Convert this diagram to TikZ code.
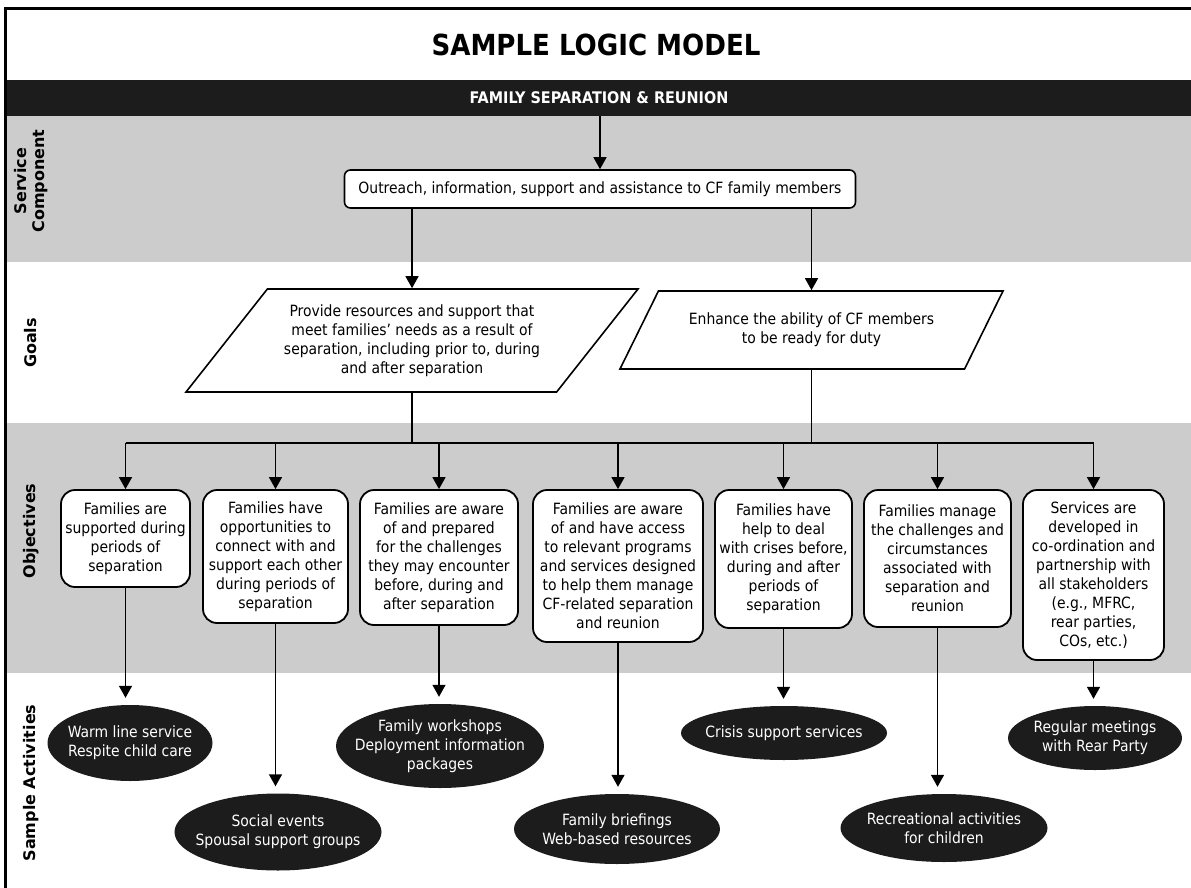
\documentclass[tikz,border=0pt]{standalone}
\usepackage{fontspec}
\usetikzlibrary{arrows.meta,shapes.geometric}
\newfontfamily\bodyfont{DejaVu Sans Condensed}
\newfontfamily\headfont{DejaVu Sans}
\definecolor{lanegray}{HTML}{CCCCCC}
\definecolor{ink}{HTML}{1C1C1C}

\begin{document}
\begin{tikzpicture}[x=1pt,y=-1pt,
  every node/.style={font=\bodyfont\fontsize{15.5}{19}\selectfont, align=center},
  arr/.style={line width=1.5pt, -{Triangle[length=12pt,width=13pt]}},
  link/.style={line width=1.5pt},
  svcbox/.style={draw, line width=1.6pt, fill=white, rounded corners=6pt, inner sep=0pt},
  goalbox/.style={trapezium, draw, line width=1.6pt, fill=white, trapezium left angle=41.5,
    trapezium right angle=138.5, trapezium stretches body, inner ysep=0pt},
  objbox/.style={draw, line width=1.8pt, fill=white, rounded corners=14pt, inner sep=0pt,
    font=\bodyfont\fontsize{15.5}{19}\selectfont},
  actell/.style={ellipse, fill=ink, text=white, inner xsep=-30pt, inner ysep=-15pt},
  lanelabel/.style={rotate=90, font=\headfont\bfseries\fontsize{16}{18}\selectfont}]
  \useasboundingbox (0,0) rectangle (1191,888);
  % lanes
  \fill[lanegray] (7,116) rectangle (1191,262);
  \fill[lanegray] (7,423) rectangle (1191,673);
  \node[fill=ink, text=white, minimum width=1184pt, minimum height=36pt, inner sep=0pt,
    font=\bodyfont\bfseries\fontsize{16}{19}\selectfont] (band) at (599,98) {FAMILY SEPARATION \& REUNION};
  \draw[line width=3pt] (5.5,888) |- (1191,8.5);
  \node[font=\bodyfont\bfseries\fontsize{29}{32}\selectfont] (title) at (596,45) {SAMPLE LOGIC MODEL};
  \foreach \y/\t [count=\i] in {181/{Service\\Component}, 343/Goals, 531/Objectives, 783/Sample Activities}
    \node[lanelabel] (lane\i) at (31,\y) {\t};

  % service component and goals
  \node[svcbox, minimum width=511pt, minimum height=38pt] (svc) at (600,189)
    {Outreach, information, support and assistance to CF family members};
  \node[goalbox, minimum width=452pt, minimum height=103pt, inner xsep=-22pt] (goalA) at (412,340.5)
    {Provide resources and support that\\meet families’ needs as a result of\\separation, including prior to, during\\and after separation};
  \node[goalbox, minimum width=383pt, minimum height=78pt, inner xsep=-20pt] (goalB) at (811.5,330)
    {Enhance the ability of CF members\\to be ready for duty};
  \draw[arr] (svc.north |- band.south) -- (svc.north);
  \draw[arr] (goalA.north |- svc.south) -- (goalA.north);
  \draw[arr] (goalB.north |- svc.south) -- (goalB.north);

  % objectives
  \foreach \i/\x/\y/\w/\h/\t in {
    1/125.5/538.5/129/97/{Families are\\supported during\\periods of\\separation},
    2/275.5/556.5/145/133/{Families have\\opportunities to\\connect with and\\support each other\\during periods of\\separation},
    3/439/557.5/158/135/{Families are aware\\of and prepared\\for the challenges\\they may encounter\\before, during and\\after separation},
    4/618/566/170/152/{Families are aware\\of and have access\\to relevant programs\\and services designed\\to help them manage\\CF-related separation\\and reunion},
    5/783.5/559/137/138/{Families have\\help to deal\\with crises before,\\during and after\\periods of\\separation},
    6/937.5/558.5/147/137/{Families manage\\the challenges and\\circumstances\\associated with\\separation and\\reunion},
    7/1093.5/575/141/170/{Services are\\developed in\\co-ordination and\\partnership with\\all stakeholders\\(e.g., MFRC,\\rear parties,\\COs, etc.)}}
    \node[objbox, minimum width=\w pt, minimum height=\h pt] (obj\i) at (\x,\y) {\t};

  % sample activities
  \foreach \i/\x/\y/\w/\h/\t in {
    1/130/743/165/76/{Warm line service\\Respite child care},
    2/278/832/207/77/{Social events\\Spousal support groups},
    3/440/746/208/84/{Family workshops\\Deployment information\\packages},
    4/617/829/206/70/{Family briefings\\Web-based resources},
    5/784/733/206/54/{Crisis support services},
    6/944/828/207/68/{Recreational activities\\for children},
    7/1095/738/174/64/{Regular meetings\\with Rear Party}}
    \node[actell, minimum width=\w pt, minimum height=\h pt] (act\i) at (\x,\y) {\t};

  \coordinate (bus) at (0,443);
  \draw[link] (goalA.south) -- (goalA.south |- bus);
  \draw[link] (goalB.south) -- (goalB.south |- bus);
  \draw[link] (obj1.north |- bus) -- (obj7.north |- bus);
  \foreach \i in {1,...,7} {
    \draw[arr] (obj\i.north |- bus) -- (obj\i.north);
    \draw[arr, shorten >=7pt] (obj\i.south) -- (obj\i.south |- act\i.north);
  }
\end{tikzpicture}
\end{document}
